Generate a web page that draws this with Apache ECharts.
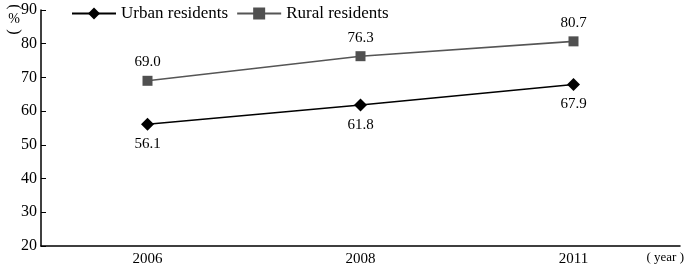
<!DOCTYPE html>
<html>
<head>
<meta charset="utf-8">
<script src="https://cdn.jsdelivr.net/npm/echarts@6/dist/echarts.min.js"></script>
<style>
  html, body { margin: 0; padding: 0; background: #fff; }
  #chart { width: 685px; height: 268px; }
</style>
</head>
<body>
<div id="chart"></div>
<script>
const years = ['2006', '2008', '2011'];
const urban = [56.1, 61.8, 67.9];
const rural = [69.0, 76.3, 80.7];

const serif = '"Liberation Serif", "DejaVu Serif", serif';

const chart = echarts.init(document.getElementById('chart'));
const option = {
  animation: false,
  textStyle: { fontFamily: serif, color: '#000' },
  grid: { left: 41, right: 5, top: 10, bottom: 22 },
  legend: {
    left: 66, top: 0,
    itemWidth: 44, itemHeight: 15, itemGap: 8,
    textStyle: { fontFamily: serif, fontSize: 17, color: '#000' },
    data: ['Urban residents', 'Rural residents']
  },
  xAxis: {
    type: 'category',
    data: years,
    boundaryGap: true,
    axisLine: { onZero: false, lineStyle: { color: '#000', width: 1.5 } },
    axisTick: { inside: true, length: 5, lineStyle: { color: '#000' } },
    axisLabel: { color: '#000', fontSize: 15, fontFamily: serif, margin: 6 }
  },
  yAxis: {
    type: 'value',
    min: 20, max: 90, interval: 10,
    axisLine: { show: true, lineStyle: { color: '#000', width: 1.5 } },
    axisTick: { show: true, inside: true, length: 5, lineStyle: { color: '#000' } },
    axisLabel: { color: '#000', fontSize: 16, fontFamily: serif, margin: 4 },
    splitLine: { show: false }
  },
  graphic: [
    // vertical "(%)" unit label
    { type: 'text', x: 14, y: 7, rotation: -Math.PI / 2, z: 100,
      style: { text: '(', font: '16px ' + serif, fill: '#000', align: 'center', verticalAlign: 'middle' } },
    { type: 'text', x: 14, y: 19, z: 100,
      style: { text: '%', font: '14px ' + serif, fill: '#000', align: 'center', verticalAlign: 'middle' } },
    { type: 'text', x: 14, y: 32, rotation: -Math.PI / 2, z: 100,
      style: { text: ')', font: '16px ' + serif, fill: '#000', align: 'center', verticalAlign: 'middle' } },
    { type: 'text', right: 1, top: 251,
      style: { text: '( year )', font: '13px ' + serif, fill: '#000' } }
  ],
  series: [
    {
      name: 'Urban residents',
      type: 'line',
      data: urban,
      symbol: 'diamond', symbolSize: 13,
      lineStyle: { color: '#000', width: 1.6 },
      itemStyle: { color: '#000' },
      label: { show: true, position: 'bottom', distance: 6, color: '#000', fontSize: 15, fontFamily: serif,
        formatter: p => p.value.toFixed(1) }
    },
    {
      name: 'Rural residents',
      type: 'line',
      data: rural,
      symbol: 'rect', symbolSize: 10,
      lineStyle: { color: '#555', width: 1.6 },
      itemStyle: { color: '#505050' },
      label: { show: true, position: 'top', distance: 6, color: '#000', fontSize: 15, fontFamily: serif,
        formatter: p => p.value.toFixed(1) }
    }
  ]
};
chart.setOption(option);
</script>
</body>
</html>
